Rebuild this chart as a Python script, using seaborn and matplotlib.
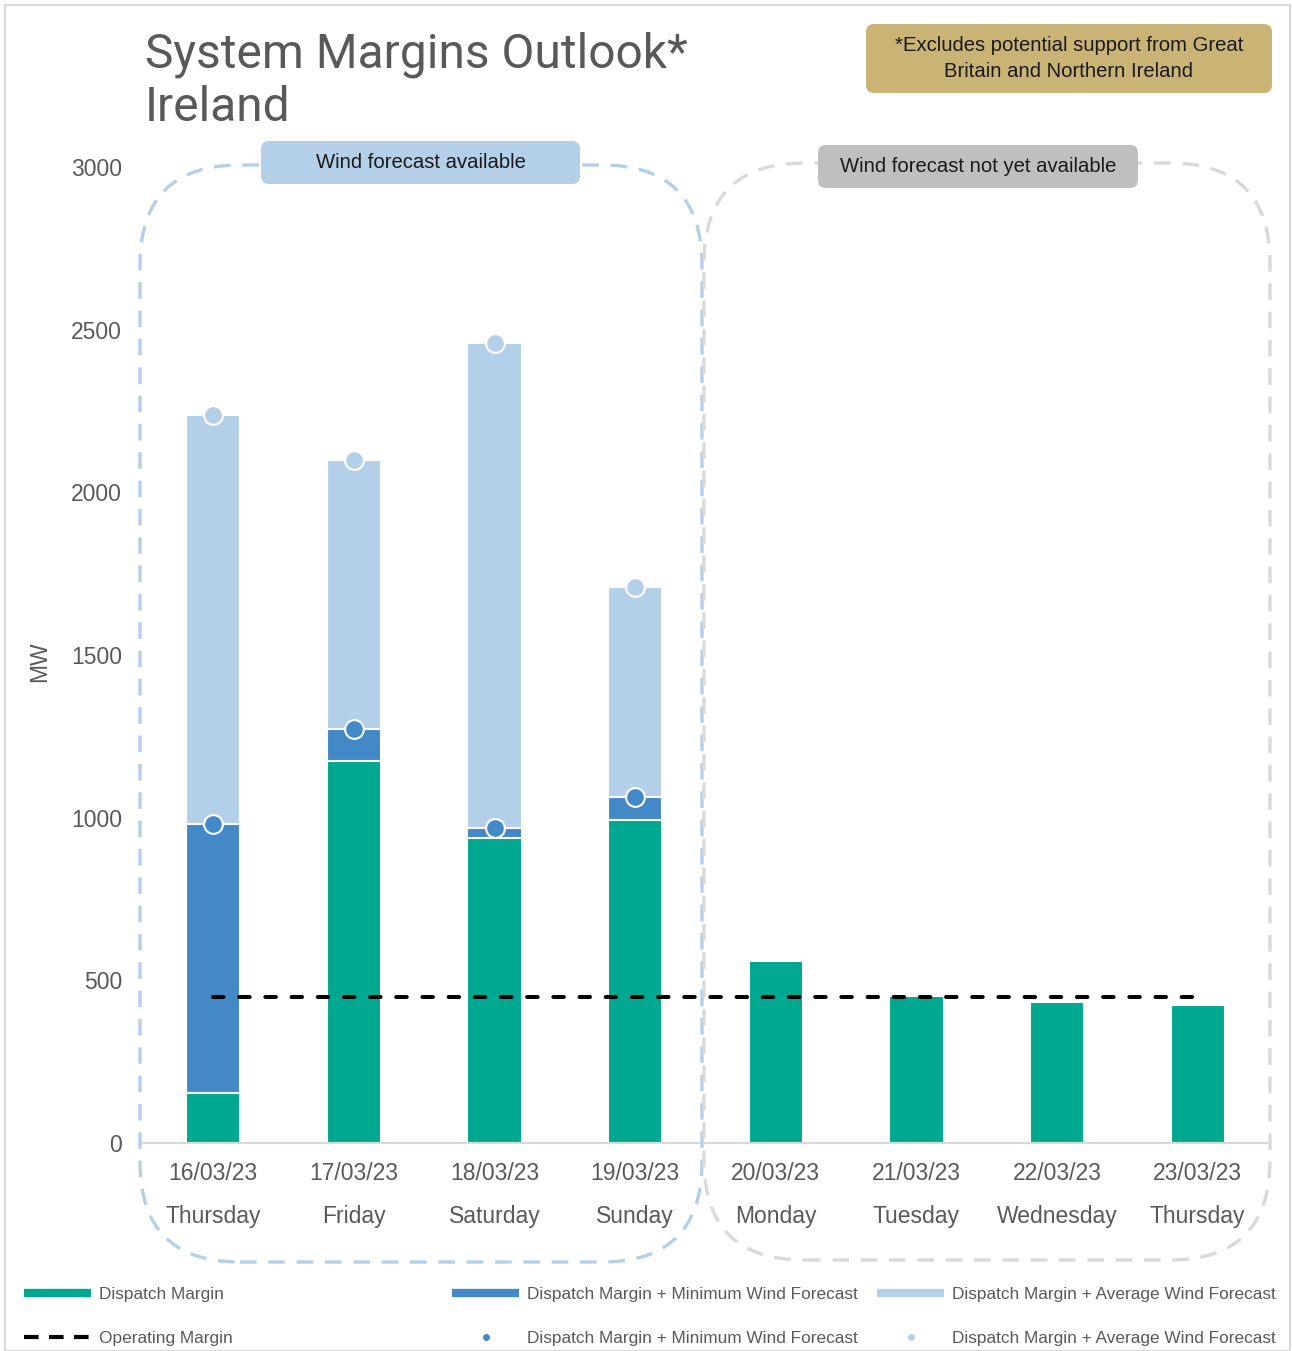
import numpy as np
import pandas as pd
import seaborn as sns
import matplotlib.pyplot as plt
from matplotlib import font_manager
from matplotlib.patches import FancyBboxPatch, Rectangle
from matplotlib.lines import Line2D
from matplotlib.transforms import IdentityTransform

# ---- data ----
dates = ["16/03/23", "17/03/23", "18/03/23", "19/03/23",
         "20/03/23", "21/03/23", "22/03/23", "23/03/23"]
days = ["Thursday", "Friday", "Saturday", "Sunday",
        "Monday", "Tuesday", "Wednesday", "Thursday"]
dispatch_margin = [153, 1174, 939, 992, 559, 452, 433, 424]
dm_min_wind = [982, 1273, 969, 1065, np.nan, np.nan, np.nan, np.nan]
dm_avg_wind = [2238, 2100, 2459, 1709, np.nan, np.nan, np.nan, np.nan]
operating_margin = [450, 450, 450, 450, 450, 450, 450, 450]

GREEN = "#00a88f"
BLUE = "#4389c8"
LIGHT = "#b4d0e8"
GREY_TXT = "#595959"
GRID = "#d9d9d9"

W, H = 1292, 1351

cats = [f"{d}\n{w}" for d, w in zip(dates, days)]
df = pd.DataFrame({
    "cat": cats,
    "dm": dispatch_margin,
    "dm_min": dm_min_wind,
    "dm_avg": dm_avg_wind,
    "om": operating_margin,
})

sns.set_theme(style="white")
plt.rcParams["font.family"] = ["Liberation Sans", "DejaVu Sans"]

# title font: a narrow face if there is one
try:
    font_manager.findfont("Liberation Sans Narrow", fallback_to_default=False)
    title_font, title_size, title_ls = "Liberation Sans Narrow", 39, 1.08
except ValueError:
    title_font, title_size, title_ls = "Roboto", 34.5, 1.22

fig = plt.figure(figsize=(W / 100, H / 100), dpi=100)
ax = fig.add_axes([143 / W, 208 / H, 1125 / W, 976 / H])

# stacked look: draw totals from the tallest down
bar_kw = dict(x="cat", order=cats, width=0.385, saturation=1, errorbar=None,
              edgecolor="white", linewidth=1.5, ax=ax)
sns.barplot(data=df, y="dm_avg", color=LIGHT, **bar_kw)
sns.barplot(data=df, y="dm_min", color=BLUE, **bar_kw)
sns.barplot(data=df, y="dm", color=GREEN, **bar_kw)

# operating margin line
sns.pointplot(data=df, x="cat", y="om", order=cats, color="black",
              errorbar=None, marker="", linestyle=(0, (2.6, 3.9)),
              linewidth=2.9, dash_capstyle="round", ax=ax)

# markers on top of the wind segments
for col, c in [("dm_min", BLUE), ("dm_avg", LIGHT)]:
    sns.pointplot(data=df, x="cat", y=col, order=cats, color=c,
                  errorbar=None, marker="o", linestyle="none",
                  linewidth=1.5, markersize=13.5, markeredgecolor="white",
                  markeredgewidth=1.5, ax=ax)

ax.set_xlim(-0.5, 7.5)
ax.set_ylim(0, 3000)
ax.set_yticks(range(0, 3001, 500))
ax.set_xticks(range(len(cats)))
ax.set_xticklabels(cats)
ax.set_xticks(np.arange(-0.5, 8, 1), minor=True)
ax.set_xlabel("")
ax.set_ylabel("")
for lab in ax.get_xticklabels():
    lab.set_linespacing(2.1)
ax.tick_params(axis="x", which="major", length=0, pad=14,
               labelsize=16.5, labelcolor=GREY_TXT)
ax.tick_params(axis="x", which="minor", length=64, width=1.5,
               color=GRID, direction="out")
ax.tick_params(axis="y", length=0, pad=15, labelsize=16.5,
               labelcolor=GREY_TXT)
for s in ["top", "right", "left"]:
    ax.spines[s].set_visible(False)
ax.spines["bottom"].set_color(GRID)
ax.spines["bottom"].set_linewidth(1.5)
ax.grid(False)

fig.text(40 / W, 1 - 662 / H, "MW", rotation=90, ha="center", va="center",
         fontsize=16.5, color=GREY_TXT)

# title
fig.text(145 / W, 1 - 31 / H, "System Margins Outlook*\nIreland",
         fontsize=title_size, color=GREY_TXT, ha="left", va="top",
         linespacing=title_ls, family=[title_font, "DejaVu Sans"])

px = IdentityTransform()

# outer frame
fig.add_artist(Rectangle((5, 0), W - 7, H - 5, fill=False, ec=GRID,
                         lw=1.5, transform=px))

# dashed rounded regions
fig.add_artist(FancyBboxPatch((140, H - 1262), 562, 1097,
                              boxstyle="round,pad=0,rounding_size=100",
                              fill=False, ec=LIGHT, lw=2.4,
                              linestyle=(0, (5, 3.5)), transform=px,
                              zorder=1))
fig.add_artist(FancyBboxPatch((704, H - 1260), 566, 1097,
                              boxstyle="round,pad=0,rounding_size=100",
                              fill=False, ec=GRID, lw=2.4,
                              linestyle=(0, (5, 3.5)), transform=px,
                              zorder=1))

# label boxes
boxes = [
    ((261, H - 184), 319, 43, LIGHT, "Wind forecast available"),
    ((818, H - 188), 320, 43, "#bfbfbf", "Wind forecast not yet available"),
    ((866, H - 93), 406, 69, "#c9b475",
     "*Excludes potential support from Great\nBritain and Northern Ireland"),
]
for (x0, y0), bw, bh, fc, txt in boxes:
    fig.add_artist(FancyBboxPatch((x0, y0), bw, bh,
                                  boxstyle="round,pad=0,rounding_size=8",
                                  fc=fc, ec="none", transform=px, zorder=3))
    fig.text((x0 + bw / 2) / W, (y0 + bh / 2) / H, txt, ha="center",
             va="center", fontsize=14.6, color="#1a1a1a", linespacing=1.45,
             zorder=4)

# legend, three columns
leg_cols = [
    (24, [Line2D([], [], color=GREEN, lw=6, solid_capstyle="butt"),
          Line2D([], [], color="black", lw=3, linestyle=(0, (3.5, 2.5)))],
     ["Dispatch Margin", "Operating Margin"]),
    (452, [Line2D([], [], color=BLUE, lw=6, solid_capstyle="butt"),
           Line2D([], [], color=BLUE, marker="o", ms=4, ls="none")],
     ["Dispatch Margin + Minimum Wind Forecast"] * 2),
    (877, [Line2D([], [], color=LIGHT, lw=6, solid_capstyle="butt"),
           Line2D([], [], color=LIGHT, marker="o", ms=4, ls="none")],
     ["Dispatch Margin + Average Wind Forecast"] * 2),
]
for x0, hs, ls in leg_cols:
    fig.legend(hs, ls, loc="upper left",
               bbox_to_anchor=(x0 / W, 1 - 1287 / H),
               frameon=False, fontsize=12.4, labelcolor=GREY_TXT,
               handlelength=3.9, handletextpad=0.45, labelspacing=1.7,
               borderpad=0, borderaxespad=0)

fig.savefig("out.png", dpi=100)
